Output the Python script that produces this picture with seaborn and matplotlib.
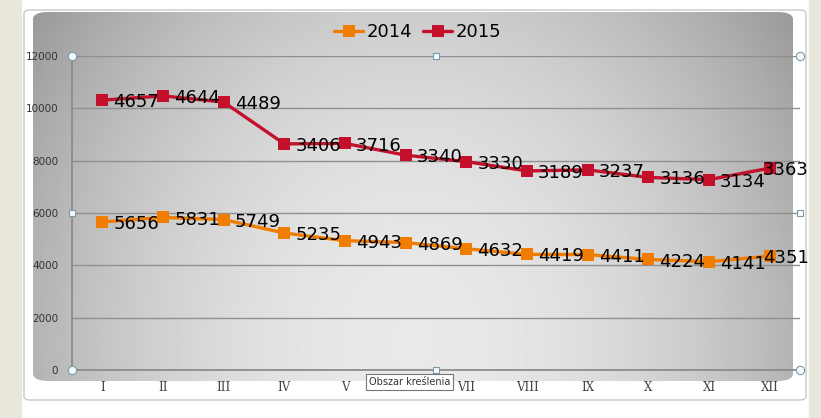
import numpy as np
import pandas as pd
import matplotlib
matplotlib.use("Agg")
import matplotlib.pyplot as plt
import seaborn as sns
from matplotlib.patches import FancyBboxPatch, Rectangle

# dane
months = ["I", "II", "III", "IV", "V", "VI", "VII", "VIII", "IX", "X", "XI", "XII"]
y2014 = [5656, 5831, 5749, 5235, 4943, 4869, 4632, 4419, 4411, 4224, 4141, 4351]
y2015 = [4657, 4644, 4489, 3406, 3716, 3340, 3330, 3189, 3237, 3136, 3134, 3363]
series = ["2014", "2015"]
colors = ["#f07d00", "#c4102b"]

# wykres skumulowany (jak w Excelu)
stack2015 = np.array(y2014) + np.array(y2015)
df = pd.DataFrame({
    "miesiac": months * 2,
    "wartosc": list(y2014) + list(stack2015),
    "etykieta": y2014 + y2015,
    "rok": ["2014"] * 12 + ["2015"] * 12,
})

sns.set_theme(style="white")
plt.rcParams['font.family'] = ['DejaVu Sans']

fig = plt.figure(figsize=(8.21, 4.18), dpi=100)
W, H = 821, 418

def fx(px):
    return px / W

def fy(py):
    return 1 - py / H

# tło okna
fig.patches.append(Rectangle((0, 0), fx(21), 1, transform=fig.transFigure,
                             color="#e9e6dc", zorder=-2))
fig.patches.append(Rectangle((fx(809), 0), 1, 1, transform=fig.transFigure,
                             color="#e9e6dc", zorder=-2))
fig.patches.append(FancyBboxPatch((fx(24), fy(400)), fx(806) - fx(24), fy(10) - fy(400),
                                  boxstyle="round,pad=0,rounding_size=0.008",
                                  transform=fig.transFigure, facecolor="white",
                                  edgecolor="#c8c8c8", lw=1, zorder=-1))

# gradient obszaru kreślenia
bg = fig.add_axes([fx(33), fy(381), fx(793) - fx(33), fy(12) - fy(381)], zorder=0)
gx, gy = np.meshgrid(np.linspace(-1, 1, 400), np.linspace(0, 1, 200))
d = np.sqrt((gx / 1.05) ** 2 + ((gy - 0.9) / 1.3) ** 2)
val = 0.915 - 0.23 * np.clip(d, 0, 1.2) ** 1.9
img = bg.imshow(val, cmap="gray", vmin=0, vmax=1, aspect="auto",
                extent=[0, 1, 0, 1], origin="upper")
clip = FancyBboxPatch((0, 0), 1, 1, boxstyle="round,pad=0,rounding_size=0.02",
                      transform=bg.transAxes, facecolor="none", edgecolor="none")
bg.add_patch(clip)
img.set_clip_path(clip)
bg.set_xlim(0, 1)
bg.set_ylim(0, 1)
bg.axis("off")

ax = fig.add_axes([fx(72), fy(370), fx(800) - fx(72), fy(56) - fy(370)], zorder=1)
ax.patch.set_alpha(0)

sns.lineplot(data=df, x="miesiac", y="wartosc", hue="rok", palette=colors,
             marker="s", markersize=8, markeredgewidth=0, linewidth=2.4,
             sort=False, ax=ax)

for s, col in zip(series, colors):
    sub = df[df["rok"] == s].reset_index(drop=True)
    for i, row in sub.iterrows():
        dx = 8 if i < 11 else -5
        ax.annotate(str(row["etykieta"]), (i, row["wartosc"]), xytext=(dx, -1.5),
                    textcoords="offset points", ha="left", va="center",
                    fontsize=13, color="black", zorder=5)

ax.set_xlim(-0.5, 11.5)
ax.set_ylim(0, 12000)
ax.set_yticks(range(0, 12001, 2000))
ax.set_yticklabels([str(v) for v in range(0, 12001, 2000)],
                   fontsize=7.5, color="#333333")
ax.set_xticks(range(12))
ax.set_xticklabels(months, family="DejaVu Serif", fontsize=8.5, color="#444444")
ax.set_xticks(np.arange(-0.5, 12, 1), minor=True)
ax.tick_params(axis="x", which="major", length=0, pad=8)
ax.tick_params(axis="x", which="minor", length=4, color="#888888", direction="out")
ax.tick_params(axis="y", length=0, pad=10)
ax.grid(axis="y", color="#909090", lw=1)
ax.set_axisbelow(True)
for side in ["top", "right"]:
    ax.spines[side].set_visible(False)
ax.spines["left"].set_color("#8a8a8a")
ax.spines["bottom"].set_color("#8a8a8a")
ax.set_xlabel("")
ax.set_ylabel("")

leg = ax.legend(loc="center", bbox_to_anchor=(0.475, 1.076), ncol=2, frameon=False,
                fontsize=13, handlelength=1.6, handletextpad=0.2, columnspacing=0.6,
                labelcolor="black")

# uchwyty zaznaczenia
for x, y, m in [(0, 0, "o"), (1, 0, "o"), (0, 1, "o"), (1, 1, "o"),
                (0.5, 0, "s"), (0.5, 1, "s"), (0, 0.5, "s"), (1, 0.5, "s")]:
    ax.plot(x, y, marker=m, markersize=6 if m == "o" else 5, color="#f4fbff",
            markeredgecolor="#7a9aa8", markeredgewidth=0.8, transform=ax.transAxes,
            clip_on=False, zorder=6)

fig.text(fx(369), fy(382), "Obszar kreślenia", fontsize=7, color="#333333",
         va="center", ha="left", zorder=7,
         bbox=dict(boxstyle="square,pad=0.3", facecolor="white", edgecolor="#777777", lw=0.8))

fig.savefig("out.png", dpi=100)
